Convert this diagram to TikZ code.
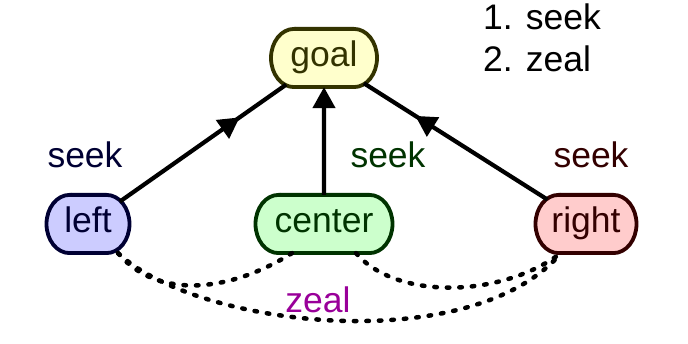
\documentclass[tikz,border=0pt]{standalone}
\usepackage{fontspec}
\setmainfont{Liberation Sans}
\usetikzlibrary{arrows.meta,decorations.markings,shapes.misc,backgrounds,calc}
\definecolor{goalfill}{HTML}{FFFFCC}
\definecolor{goaldraw}{HTML}{333300}
\definecolor{leftfill}{HTML}{CCCCFF}
\definecolor{leftdraw}{HTML}{000033}
\definecolor{centerfill}{HTML}{CCFFCC}
\definecolor{centerdraw}{HTML}{003300}
\definecolor{rightfill}{HTML}{FFCCCC}
\definecolor{rightdraw}{HTML}{330000}
\definecolor{zealcol}{HTML}{990099}
\newcommand\drawpill[3]{%
  \draw[pillline, fill=#2, draw=#3]
    ($(#1.west |- #1.north)+(23,0)$) -- ($(#1.east |- #1.north)+(-23,0)$)
    arc[start angle=90, end angle=-90, x radius=23pt, y radius=29.1pt]
    -- ($(#1.west |- #1.south)+(23,0)$)
    arc[start angle=270, end angle=90, x radius=23pt, y radius=29.1pt] -- cycle;}
\begin{document}
\begin{tikzpicture}[x=1pt,y=-1pt,
  bigfont/.style={font=\fontsize{35.5}{42}\selectfont},
  box/.style={bigfont, rounded rectangle, rounded rectangle arc length=140,
    inner xsep=1pt, inner ysep=0pt, outer sep=0pt,
    minimum height=58.2pt, text height=25pt, text depth=7pt},
  pillline/.style={line width=3.8pt},
  lbl/.style={bigfont, anchor=base, inner sep=0pt},
  edge/.style={line width=4.2pt},
  tipend/.style={-{Triangle[length=21pt,width=22pt]}},
  midtip/.style={postaction={decorate}, decoration={markings,
    mark=at position 0.72 with {\arrow{Triangle[length=21pt,width=22pt]}}}},
  zealline/.style={line width=4.5pt, line cap=round, dash pattern=on 2.5pt off 10pt}
]
\useasboundingbox (0,0) rectangle (688,344);

\node[box, minimum width=108pt, text=goaldraw] (goal) at (324,58) {goal};
\node[box, minimum width=85pt, text=leftdraw] (left) at (88,224) {left};
\node[box, minimum width=139pt, text=centerdraw] (center) at (324,224) {center};
\node[box, minimum width=103pt, text=rightdraw] (right) at (586,224) {right};

\begin{scope}[on background layer]
  \drawpill{goal}{goalfill}{goaldraw}
  \drawpill{left}{leftfill}{leftdraw}
  \drawpill{center}{centerfill}{centerdraw}
  \drawpill{right}{rightfill}{rightdraw}
\end{scope}

\draw[edge, midtip] (left) -- (goal);
\draw[edge, tipend] (center) -- (goal);
\draw[edge, midtip] (right) -- (goal);

\node[lbl, text=leftdraw] (seekl) at (85,168) {seek};
\node[lbl, text=centerdraw] (seekc) at (388,168) {seek};
\node[lbl, text=rightdraw] (seekr) at (591,168) {seek};

\draw[zealline] ([xshift=30pt]left.south) .. controls +(40,48) and +(-60,38) .. ([xshift=-32pt]center.south);
\draw[zealline] ([xshift=30pt]left.south) .. controls +(80,75) and +(-90,105) .. ([xshift=-25pt]right.south);
\draw[zealline] ([xshift=32pt]center.south) .. controls +(40,47) and +(-60,45) .. ([xshift=-25pt]right.south);

\node[lbl, text=zealcol] (zeal) at (318,313) {zeal};

\node[lbl, anchor=base west] (leg1) at (483,30) {1. seek};
\node[lbl, anchor=base west] (leg2) at (483,72) {2. zeal};
\end{tikzpicture}
\end{document}
